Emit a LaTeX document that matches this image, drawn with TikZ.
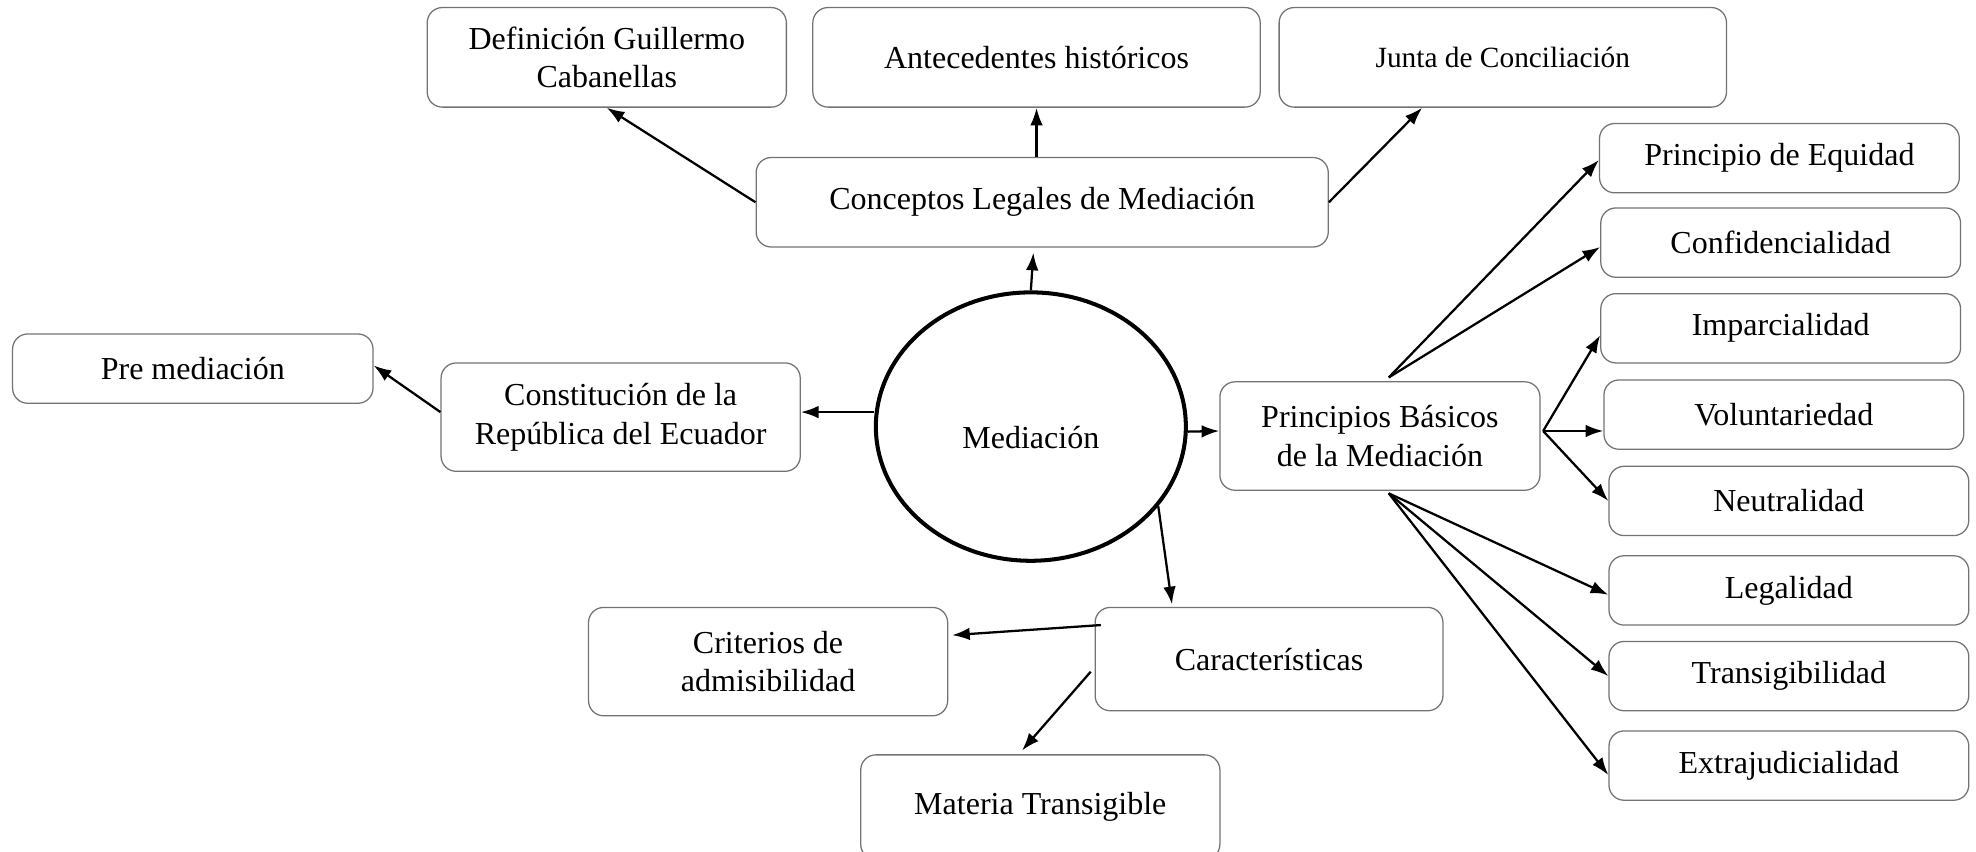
\documentclass[tikz,border=0pt]{standalone}
\usepackage{fontspec}
\setmainfont{Liberation Serif}
\usetikzlibrary{shapes.geometric,arrows.meta}
\begin{document}
\begin{tikzpicture}[x=0.5pt,y=-0.5pt,
  box/.style={draw=black!55,line width=0.5pt,rounded corners=6pt,align=center,inner sep=0pt,
    font=\fontsize{12.7}{15.2}\selectfont},
  conn/.style={draw=black,line width=0.9pt,-{Latex[length=7pt,width=5pt]}},
  rbox/.style={box,minimum width=142.75pt,minimum height=27.5pt}]
\useasboundingbox (0,0) rectangle (1568,675.3);
% top row
\node[box,minimum width=142.5pt,minimum height=39.5pt] (def) at (481.5,45.5) {Definición Guillermo\\Cabanellas};
\node[box,minimum width=177.5pt,minimum height=39.5pt] (ante) at (822.5,45.5) {Antecedentes históricos};
\node[box,minimum width=177.5pt,minimum height=39.5pt,font=\fontsize{11.65}{14}\selectfont] (junta) at (1192.5,45.5) {Junta de Conciliación};
\node[box,minimum width=227pt,minimum height=35.5pt] (conc) at (827,160.5) {Conceptos Legales de Mediación};
% left
\node[box,minimum width=143pt,minimum height=27.5pt] (pre) at (153,292.5) {Pre mediación};
\node[box,minimum width=142.5pt,minimum height=43pt] (const) at (492.5,331) {Constitución de la\\República del Ecuador};
% centre
\node[ellipse,draw=black,line width=1.6pt,minimum width=123pt,minimum height=106.5pt,inner sep=0pt,
  text height=17.4pt,text depth=0pt,
  font=\fontsize{12.7}{15.2}\selectfont] (med) at (818,338.5) {Mediación};
\node[box,minimum width=127pt,minimum height=43pt] (prin) at (1095,346) {Principios Básicos\\de la Mediación};
% right column
\node[rbox] (equi) at (1412,125.5) {Principio de Equidad};
\node[rbox] (conf) at (1413,192.5) {Confidencialidad};
\node[rbox] (impa) at (1413,260.5) {Imparcialidad};
\node[rbox] (volu) at (1415.5,329) {Voluntariedad};
\node[rbox] (neut) at (1419.5,397.5) {Neutralidad};
\node[rbox] (lega) at (1419.5,468.5) {Legalidad};
\node[rbox] (tran) at (1419.5,536.5) {Transigibilidad};
\node[rbox] (extr) at (1419.5,607.5) {Extrajudicialidad};
% bottom
\node[box,minimum width=138pt,minimum height=41pt] (cara) at (1007,523) {Características};
\node[box,minimum width=142.5pt,minimum height=43pt] (crit) at (609.5,525) {Criterios de\\admisibilidad};
\node[box,minimum width=142.5pt,minimum height=41.5pt] (mate) at (825.5,640.5) {Materia Transigible};
% connectors
\draw[conn] (conc.west) -- (def.south);
\draw[conn] (ante.south |- conc.north) -- (ante.south);
\draw[conn] (conc.east) -- ([xshift=-32pt]junta.south);
\draw[conn] (med.north) -- ([xshift=-3.5pt,yshift=-2pt]conc.south);
\draw[conn] ([yshift=5.75pt]med.west) -- ([yshift=2pt]const.east);
\draw[conn] ([yshift=2pt]const.west) -- ([yshift=1.25pt]pre.east);
\draw[conn] ([yshift=-2pt]med.east) -- ([yshift=2pt]prin.west);
\draw[conn] ([xshift=3.5pt,yshift=1.5pt]prin.north) -- ([yshift=-0.75pt]equi.west);
\draw[conn] ([xshift=3.5pt,yshift=1.5pt]prin.north) -- ([yshift=-1.75pt]conf.west);
\draw[conn] ([xshift=1pt,yshift=2pt]prin.east) -- ([yshift=-2.75pt]impa.west);
\draw[conn] ([xshift=1pt,yshift=2pt]prin.east) -- ([yshift=-6.5pt]volu.west);
\draw[conn] ([xshift=1pt,yshift=2pt]prin.east) -- (neut.west);
\draw[conn] ([xshift=3.5pt,yshift=-1pt]prin.south) -- ([yshift=-1.75pt]lega.west);
\draw[conn] ([xshift=3.5pt,yshift=-1pt]prin.south) -- (tran.west);
\draw[conn] ([xshift=3.5pt,yshift=-1pt]prin.south) -- ([yshift=-3.75pt]extr.west);
\draw[conn] (med.-32) -- ([xshift=-38.5pt,yshift=1pt]cara.north);
\draw[conn] ([xshift=2.5pt,yshift=13.5pt]cara.west) -- ([xshift=1.5pt,yshift=10.5pt]crit.east);
\draw[conn] ([xshift=-1.5pt,yshift=-5pt]cara.west) -- ([xshift=-7.25pt,yshift=1.5pt]mate.north);
\end{tikzpicture}
\end{document}
